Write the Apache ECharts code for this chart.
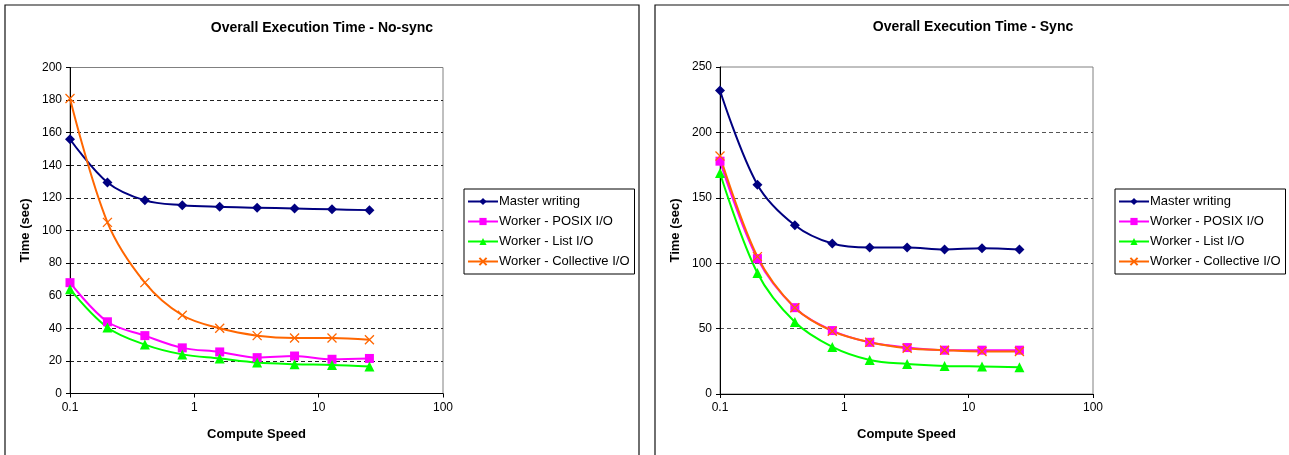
<!DOCTYPE html>
<html><head><meta charset="utf-8">
<script src="https://cdn.jsdelivr.net/npm/echarts@6/dist/echarts.min.js"></script>
<style>html,body{margin:0;padding:0;background:#fff}#c{width:1289px;height:455px}</style>
</head><body><div id="c"></div>
<script>
const computeSpeed = [0.1, 0.2, 0.4, 0.8, 1.6, 3.2, 6.4, 12.8, 25.6];
const seriesNames = ['Master writing', 'Worker - POSIX I/O', 'Worker - List I/O', 'Worker - Collective I/O'];
const xTickValues = [0.1, 1, 10, 100];
const xTickLabels = ['0.1', '1', '10', '100'];
const chartTitles = ['Overall Execution Time - No-sync', 'Overall Execution Time - Sync'];

// No-sync
const noSyncMaster     = [156, 129.5, 118.5, 115.5, 114.5, 114, 113.5, 113, 112.5];
const noSyncPosix      = [68, 44, 35.5, 28, 25.5, 22, 23, 21, 21.5];
const noSyncList       = [64, 40.5, 30, 24, 21.5, 19, 18, 17.5, 16.5];
const noSyncCollective = [181, 105, 68, 48, 40, 35.5, 34, 34, 33];

// Sync
const syncMaster     = [232, 160, 129, 115, 112, 112, 110.5, 111.5, 110.5];
const syncPosix      = [178, 103.5, 66, 48.5, 39.5, 35.5, 33.5, 33.5, 33.5];
const syncList       = [169, 92.5, 55, 36, 26, 23, 21.5, 21, 20.5];
const syncCollective = [182, 105, 66, 48, 39.5, 35, 33.5, 32.5, 32.5];

const FONT = '"Liberation Sans", Arial, sans-serif';
const colors = ['#000080', '#FF00FF', '#00FF00', '#FF6600'];
const symbols = ['diamond', 'rect', 'triangle', 'path://M0,0L10,10M10,0L0,10'];
const symbolSizes = [10, 9, 10, 9];

function makeSeries(idx, values, gridIdx) {
  const isX = idx === 3;
  return {
    name: seriesNames[idx],
    type: 'line',
    xAxisIndex: gridIdx,
    yAxisIndex: gridIdx,
    data: values.map((v, i) => [computeSpeed[i], v]),
    smooth: 0.35,
    symbol: symbols[idx],
    symbolSize: symbolSizes[idx],
    lineStyle: { color: colors[idx], width: 2 },
    itemStyle: isX ? { color: 'rgba(0,0,0,0)', borderColor: colors[idx], borderWidth: 1.3 }
                   : { color: colors[idx] },
    emphasis: { disabled: true },
    animation: false
  };
}

function fmtX(v) {
  let best = 0;
  for (let i = 1; i < xTickValues.length; i++) {
    if (Math.abs(Math.log10(v) - Math.log10(xTickValues[i])) < Math.abs(Math.log10(v) - Math.log10(xTickValues[best]))) best = i;
  }
  return xTickLabels[best];
}

function xAxisCfg(gridIdx) {
  return {
    gridIndex: gridIdx, type: 'log', logBase: 10, min: 0.1, max: 100,
    name: 'Compute Speed', nameLocation: 'middle', nameGap: 34,
    nameTextStyle: { fontFamily: FONT, fontSize: 13, fontWeight: 'bold', color: '#000' },
    axisLine: { show: true, lineStyle: { color: '#000', width: 1 } },
    axisTick: { show: true, length: 4, lineStyle: { color: '#000' } },
    axisLabel: { fontFamily: FONT, fontSize: 12, color: '#000', margin: 8, formatter: fmtX },
    splitLine: { show: false },
    minorTick: { show: false }
  };
}

function yAxisCfg(gridIdx, max, interval, gridColor) {
  return {
    gridIndex: gridIdx, type: 'value', min: 0, max: max, interval: interval,
    name: 'Time (sec)', nameLocation: 'middle', nameGap: 38,
    nameTextStyle: { fontFamily: FONT, fontSize: 13, fontWeight: 'bold', color: '#000' },
    axisLine: { show: true, lineStyle: { color: '#000', width: 1 } },
    axisTick: { show: true, length: 4, lineStyle: { color: '#000' } },
    axisLabel: { fontFamily: FONT, fontSize: 12, color: '#000', margin: 8 },
    splitLine: { show: true, showMinLine: false, showMaxLine: false, lineStyle: { color: gridColor, type: [4, 3], width: 1 } }
  };
}

function legendCfg(left) {
  return {
    left: left, top: 189, orient: 'vertical',
    itemWidth: 30, itemHeight: 9, itemGap: 7,
    padding: [6, 5, 6, 3],
    borderColor: '#000', borderWidth: 1,
    textStyle: { fontFamily: FONT, fontSize: 13, lineHeight: 13, color: '#000', padding: [0, 0, 0, -4] },
    data: seriesNames,
    selectedMode: false
  };
}

const chart = echarts.init(document.getElementById('c'), null, { renderer: 'canvas' });
chart.setOption({
  animation: false,
  backgroundColor: '#fff',
  graphic: [
    { type: 'rect', shape: { x: 5, y: 5, width: 634, height: 470 }, style: { fill: 'none', stroke: '#111', lineWidth: 1.2 }, silent: true },
    { type: 'rect', shape: { x: 655, y: 5, width: 640, height: 470 }, style: { fill: 'none', stroke: '#111', lineWidth: 1.2 }, silent: true }
  ],
  title: [
    { text: chartTitles[0], left: 322, top: 21, textAlign: 'center', padding: 0,
      textStyle: { fontFamily: FONT, fontSize: 14, fontWeight: 'bold', color: '#000' } },
    { text: chartTitles[1], left: 973, top: 20, textAlign: 'center', padding: 0,
      textStyle: { fontFamily: FONT, fontSize: 14, fontWeight: 'bold', color: '#000' } }
  ],
  legend: [legendCfg(464), legendCfg(1115)],
  grid: [
    { left: 70, top: 67.5, width: 373, height: 326, show: true, borderColor: '#808080', borderWidth: 1, backgroundColor: '#fff' },
    { left: 720, top: 67, width: 373, height: 327, show: true, borderColor: '#808080', borderWidth: 1, backgroundColor: '#fff' }
  ],
  xAxis: [xAxisCfg(0), xAxisCfg(1)],
  yAxis: [yAxisCfg(0, 200, 20, '#222'), yAxisCfg(1, 250, 50, '#555')],
  series: [
    makeSeries(0, noSyncMaster, 0),
    makeSeries(1, noSyncPosix, 0),
    makeSeries(2, noSyncList, 0),
    makeSeries(3, noSyncCollective, 0),
    makeSeries(0, syncMaster, 1),
    makeSeries(1, syncPosix, 1),
    makeSeries(2, syncList, 1),
    makeSeries(3, syncCollective, 1)
  ]
});
</script>
</body></html>
